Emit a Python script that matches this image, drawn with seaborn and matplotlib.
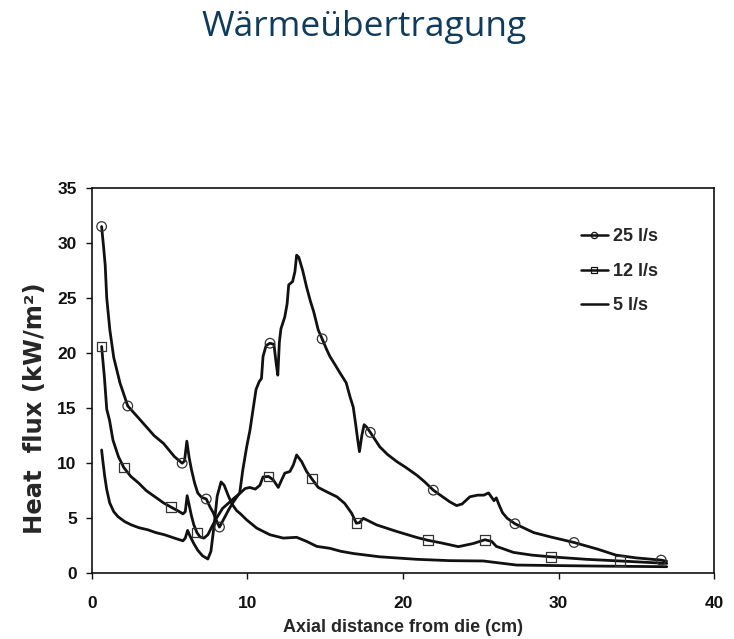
import numpy as np
import pandas as pd
import matplotlib
matplotlib.use("Agg")
import matplotlib.pyplot as plt
from matplotlib.lines import Line2D
import seaborn as sns

# Heat flux along the film, measured for three cooling-air flow rates
x_25 = [0.62, 0.75, 0.85, 0.95, 1.15, 1.4, 1.8, 2.3, 3.0, 3.5, 4.0, 4.6, 5.3, 5.8,
        5.95, 6.1, 6.25, 6.4, 6.6, 6.8, 7.05, 7.35, 7.6, 7.8, 8.0, 8.2, 8.5, 8.8,
        9.1, 9.5, 9.7, 9.95, 10.16, 10.37, 10.55, 10.75, 10.9, 11.0, 11.2, 11.45,
        11.7, 11.85, 11.95, 12.05, 12.15, 12.4, 12.55, 12.65, 12.9, 13.05, 13.16,
        13.3, 13.55, 13.8, 14.05, 14.25, 14.55, 14.8, 15.1, 15.3, 15.65, 15.95,
        16.35, 16.6, 16.8, 16.95, 17.1, 17.2, 17.35, 17.5, 17.65, 17.9, 18.5, 19.0,
        19.6, 20.2, 20.9, 21.4, 21.95, 22.5, 23.0, 23.45, 23.8, 24.3, 24.8, 25.2,
        25.5, 25.7, 25.85, 26.0, 26.15, 26.4, 26.7, 27.2, 28.4, 29.5, 31.0, 32.5,
        33.7, 35.0, 36.6, 36.95]
y_25 = [31.5, 29.6, 28.0, 25.0, 22.1, 19.6, 17.3, 15.2, 14.1, 13.3, 12.5, 11.8, 10.6, 10.0,
        10.2, 12.0, 10.5, 9.4, 8.2, 7.3, 6.9, 6.75, 6.0, 5.5, 4.8, 4.2, 5.0, 5.8,
        6.5, 7.3, 9.4, 11.5, 13.0, 15.0, 16.7, 17.4, 17.7, 19.7, 20.7, 20.9,
        20.8, 19.0, 18.0, 21.0, 22.2, 23.3, 24.5, 26.2, 26.5, 27.4, 28.9,
        28.7, 27.5, 26.0, 24.7, 23.8, 22.1, 21.3, 20.3, 19.7, 18.9, 18.2,
        17.3, 16.0, 15.1, 13.6, 12.0, 11.05, 12.5, 13.5, 13.3, 12.8, 11.5, 10.8,
        10.15, 9.6, 8.9, 8.3, 7.55, 7.0, 6.5, 6.15, 6.3, 6.95, 7.1, 7.1,
        7.3, 6.9, 6.6, 6.85, 6.3, 5.5, 5.0, 4.5, 3.7, 3.3, 2.8, 2.2,
        1.65, 1.4, 1.2, 1.1]
marks_25 = [0.62, 2.3, 5.8, 7.35, 8.2, 11.45, 14.8, 17.9, 21.95, 27.2, 31.0, 36.6]

x_12 = [0.62, 0.8, 0.95, 1.13, 1.35, 1.7, 2.05, 2.5, 3.0, 3.5, 4.0, 4.6, 5.1, 5.5,
        5.85, 6.0, 6.12, 6.25, 6.4, 6.55, 6.75, 6.95, 7.2, 7.45, 7.7, 8.0, 8.4,
        8.8, 9.2, 9.5, 9.85, 10.15, 10.5, 10.8, 11.0, 11.35, 11.65, 11.98, 12.2,
        12.4, 12.73, 12.95, 13.16, 13.48, 13.8, 14.13, 14.55, 15.1, 15.75, 16.25,
        16.7, 17.0, 17.2, 17.45, 18.3, 19.6, 20.9, 21.6, 22.5, 23.56, 24.5, 25.27,
        25.7, 26.0, 27.1, 28.3, 29.5, 31.8, 33.95, 36.96]
y_12 = [20.6, 17.8, 14.9, 13.9, 12.1, 10.6, 9.6, 8.8, 8.2, 7.5, 7.0, 6.4, 6.0, 5.7,
        5.4, 5.6, 7.05, 6.2, 5.2, 4.4, 3.7, 3.3, 3.2, 3.5, 4.2, 5.0, 5.9,
        6.4, 6.9, 7.25, 7.7, 7.8, 7.65, 8.0, 8.75, 8.8, 8.5, 7.8, 8.5,
        9.1, 9.25, 9.85, 10.75, 10.15, 9.25, 8.6, 7.8, 7.4, 6.95, 6.35,
        5.45, 4.55, 4.6, 5.0, 4.4, 3.8, 3.25, 3.0, 2.75, 2.42, 2.7, 3.05,
        2.9, 2.45, 1.9, 1.65, 1.5, 1.27, 1.12, 0.9]
marks_12 = [0.62, 2.05, 5.1, 6.75, 11.35, 14.13, 17.0, 21.6, 25.27, 29.5, 33.95]

x_5 = [0.62, 0.7, 0.82, 0.95, 1.14, 1.4, 1.67, 2.1, 2.53, 3.0, 3.6, 4.1, 4.67, 5.3,
       5.85, 6.0, 6.15, 6.3, 6.55, 6.8, 7.1, 7.45, 7.65, 7.85, 8.05, 8.3, 8.5,
       8.75, 9.0, 9.3, 9.55, 9.95, 10.6, 11.45, 12.3, 13.16, 13.8, 14.45, 15.3,
       16.0, 16.8, 18.5, 20.9, 23.0, 25.16, 27.3, 30.0, 33.0, 36.96]
y_5 = [11.2, 10.2, 8.8, 7.6, 6.4, 5.6, 5.15, 4.7, 4.4, 4.15, 3.95, 3.7, 3.5, 3.2,
       2.95, 3.2, 3.9, 3.4, 2.7, 2.1, 1.6, 1.3, 2.0, 4.3, 7.0, 8.3, 8.0,
       7.1, 6.3, 5.7, 5.4, 4.85, 4.1, 3.5, 3.2, 3.27, 2.9, 2.45, 2.27,
       2.0, 1.8, 1.5, 1.27, 1.15, 1.12, 0.75, 0.7, 0.65, 0.6]

series_labels = ["25 l/s", "12 l/s", "5 l/s"]
x_ticks = [0, 10, 20, 30, 40]
y_ticks = [0, 5, 10, 15, 20, 25, 30, 35]

sns.set_style("ticks")
plt.rcParams["font.family"] = ["Liberation Sans", "DejaVu Sans"]
plt.rcParams["font.weight"] = "bold"

ink = "#111111"
fig = plt.figure(figsize=(7.34, 6.39), dpi=100)
ax = fig.add_axes([0.1253, 0.1028, 0.8475, 0.603])

curves = [
    (pd.DataFrame({"x": x_25, "y": y_25}), marks_25, "o"),
    (pd.DataFrame({"x": x_12, "y": y_12}), marks_12, "s"),
    (pd.DataFrame({"x": x_5, "y": y_5}), [], None),
]
for df, marks, marker in curves:
    sns.lineplot(data=df, x="x", y="y", ax=ax, color=ink, linewidth=2.0,
                 sort=False, estimator=None, legend=False)
    if marker:
        pts = df[np.isin(df["x"], marks)]
        sns.scatterplot(data=pts, x="x", y="y", ax=ax, marker=marker, s=48,
                        facecolors="none", edgecolors="#333333", linewidths=0.9,
                        legend=False, zorder=3)

ax.set_xlim(0, 40)
ax.set_ylim(0, 35)
ax.set_xticks(x_ticks)
ax.set_yticks(y_ticks)
ax.tick_params(axis="both", direction="out", length=4, width=1.0, colors=ink,
               labelsize=12.5)
ax.tick_params(axis="x", pad=12)
ax.tick_params(axis="y", pad=7)
for side in ["left", "right", "top", "bottom"]:
    ax.spines[side].set_visible(True)
    ax.spines[side].set_linewidth(1.2)
    ax.spines[side].set_color(ink)

ax.set_xlabel("Axial distance from die (cm)", fontsize=13, fontweight="bold",
              labelpad=6)
ax.set_ylabel("Heat  flux (kW/m²)", fontsize=17.5, fontweight="bold",
              family=["DejaVu Sans"])
ax.yaxis.set_label_coords(-0.073, 0.429)

handles = [
    Line2D([], [], color=ink, lw=1.8, marker="o", markersize=4.5,
           markerfacecolor="none", markeredgewidth=0.9),
    Line2D([], [], color=ink, lw=1.8, marker="s", markersize=4.5,
           markerfacecolor="none", markeredgewidth=0.9),
    Line2D([], [], color=ink, lw=1.8),
]
leg = ax.legend(handles, series_labels, loc="upper left",
                bbox_to_anchor=(0.786, 0.895), frameon=False, borderpad=0,
                borderaxespad=0, handlelength=1.5, handletextpad=0.25,
                labelspacing=0.97, prop={"size": 13, "weight": "bold"})

fig.text(0.496, 0.943, "Wärmeübertragung", ha="center", va="baseline",
         fontsize=25.5, color="#0f3b5c", family=["Open Sans", "DejaVu Sans"],
         fontweight="normal")

fig.savefig("out.png", dpi=100)
